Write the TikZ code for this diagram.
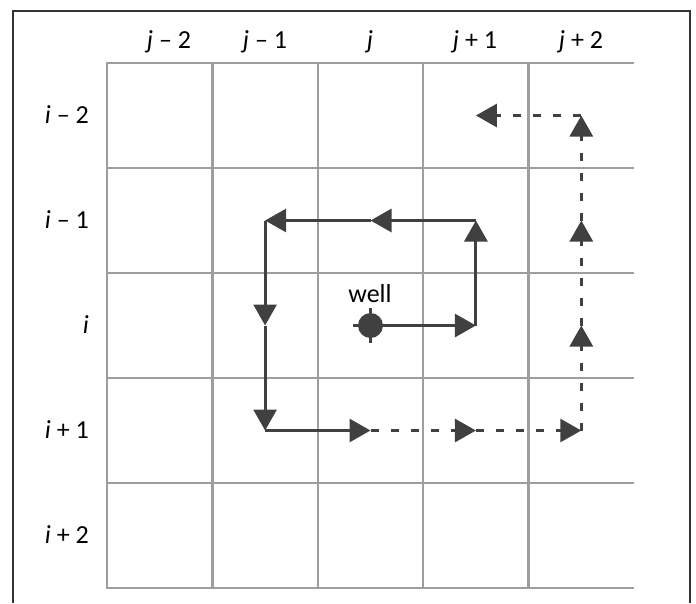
\documentclass[tikz,border=0pt]{standalone}
\usepackage{fontspec}
\setmainfont{Carlito}
\usetikzlibrary{arrows.meta}
\definecolor{ink}{HTML}{404040}
\definecolor{gridc}{HTML}{9E9E9E}
\definecolor{framec}{HTML}{333333}
\begin{document}
\begin{tikzpicture}[x=1pt,y=-1pt,
  gridline/.style={draw=gridc, line width=2.4pt},
  pathsolid/.style={draw=ink, line width=3pt, -{Triangle[length=21pt,width=23pt]}},
  pathdash/.style={pathsolid, dash pattern=on 8pt off 12pt},
  lab/.style={font=\fontsize{26}{30}\selectfont, inner sep=0pt, text=black}]
\useasboundingbox (0,0) rectangle (696,603);
% frame (open at the bottom)
\draw[framec, line width=1.2pt] (13,603) -- (13,11) -- (690,11) -- (690,603);
% grid
\foreach \k in {0,...,4} \draw[gridline] ({107+105.4*\k},63) -- ({107+105.4*\k},588);
\foreach \k in {0,...,5} \draw[gridline] (106,{63+105*\k}) -- (634,{63+105*\k});
% cell centres c-row-col
\foreach \r in {1,...,5}
  \foreach \c in {1,...,5}
    \coordinate (c-\r-\c) at ({107+105.4*(\c-0.5)},{63+105*(\r-0.5)});
% column labels
\node[lab, anchor=base] (lj1) at (169,48) {\textit{j} – 2};
\node[lab, anchor=base] (lj2) at (265,48) {\textit{j} – 1};
\node[lab, anchor=base] (lj3) at (370,48) {\textit{j}};
\node[lab, anchor=base] (lj4) at (475,48) {\textit{j} + 1};
\node[lab, anchor=base] (lj5) at (581,48) {\textit{j} + 2};
% row labels
\node[lab, anchor=base east] (li1) at (89,123) {\textit{i} – 2};
\node[lab, anchor=base east] (li2) at (89,228) {\textit{i} – 1};
\node[lab, anchor=base east] (li3) at (89,333) {\textit{i}};
\node[lab, anchor=base east] (li4) at (89,438) {\textit{i} + 1};
\node[lab, anchor=base east] (li5) at (89,543) {\textit{i} + 2};
% well
\node[circle, fill=ink, minimum size=25pt, inner sep=0pt] (well) at (c-3-3) {};
\draw[ink, line width=2.5pt] (well.north) -- ++(0,-5) (well.south) -- ++(0,5)
  (well.west) -- ++(-5,0) (well.east) -- ++(5,0);
\node[lab, anchor=base] (welllab) at (370,302) {well};
% solid spiral
\draw[pathsolid] (well.center) -- (c-3-4);
\draw[pathsolid] (c-3-4) -- (c-2-4);
\draw[pathsolid] (c-2-4) -- (c-2-3);
\draw[pathsolid] (c-2-3) -- (c-2-2);
\draw[pathsolid] (c-2-2) -- (c-3-2);
\draw[pathsolid] (c-3-2) -- (c-4-2);
\draw[pathsolid] (c-4-2) -- (c-4-3);
% dashed continuation
\draw[pathdash] (c-4-3) -- (c-4-4);
\draw[pathdash] (c-4-4) -- (c-4-5);
\draw[pathdash] (c-4-5) -- (c-3-5);
\draw[pathdash] (c-3-5) -- (c-2-5);
\draw[pathdash] (c-2-5) -- (c-1-5);
\draw[pathdash] (c-1-5) -- (c-1-4);
\end{tikzpicture}
\end{document}
